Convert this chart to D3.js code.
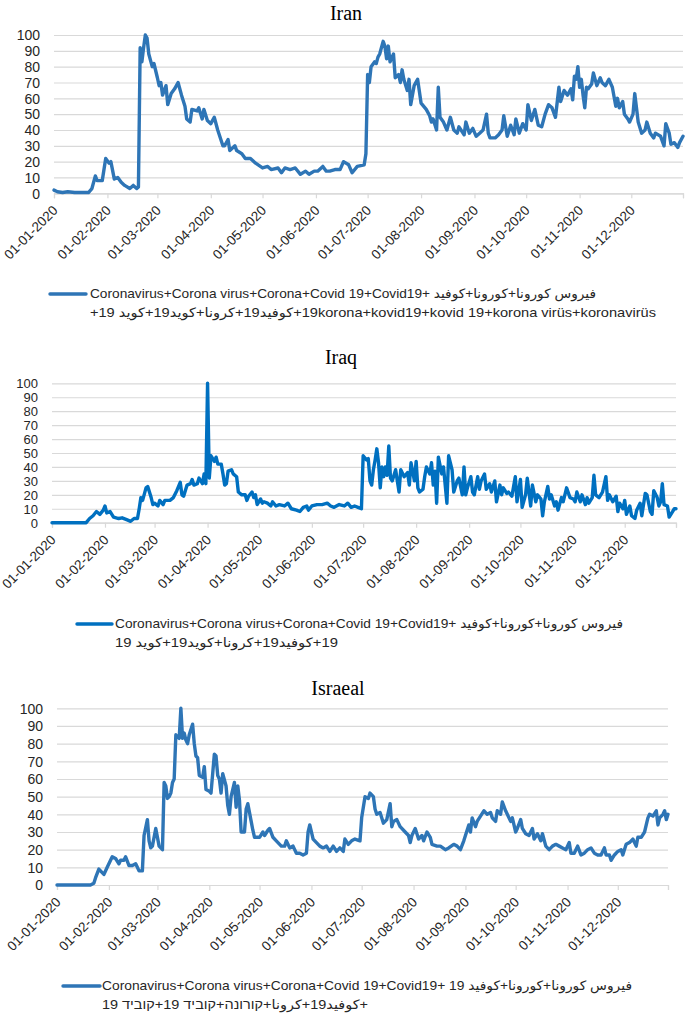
<!DOCTYPE html>
<html><head><meta charset="utf-8">
<script src="https://cdn.jsdelivr.net/npm/d3@7/dist/d3.min.js"></script>
<style>body{margin:0;background:#fff}svg{display:block}</style>
</head><body>
<svg id="chart" width="685" height="1015"></svg>
<script>
// ---------- data ----------
const monthStarts = ["2020-01-01","2020-02-01","2020-03-01","2020-04-01","2020-05-01","2020-06-01","2020-07-01","2020-08-01","2020-09-01","2020-10-01","2020-11-01","2020-12-01"];
const yTicks = [0,10,20,30,40,50,60,70,80,90,100];
const titles = ["Iran","Iraq","Israeal"];

// day offset from 01-01-2020 and search interest value
const iranDays = [0,2,5,8,12,16,20,22,24,25,28,30,32,33,35,37,39,41,44,46,48,49,50,51,52,53,54,55,57,58,60,61,62,63,65,66,68,70,72,74,76,77,79,80,83,84,86,87,89,91,93,95,98,99,101,102,105,106,109,111,114,117,121,124,126,130,132,134,137,140,143,146,148,151,153,156,158,160,163,166,168,171,173,176,180,181,182,183,184,186,187,188,189,191,192,193,194,195,197,198,200,201,202,203,205,206,207,209,211,213,216,218,219,220,222,223,224,226,228,230,232,234,235,238,239,241,243,245,247,249,251,252,253,256,258,260,261,263,265,267,268,270,272,274,275,277,279,281,283,285,287,289,291,293,294,296,298,300,301,302,303,304,305,306,307,308,309,310,312,313,315,317,318,320,322,324,326,327,328,330,331,333,334,336,337,339,341,343,344,346,348,349,352,354,355,357,358,360,362,363,365];
const iranValues = [2,1,0.5,1,0.5,0.5,0.5,3,11,8,8,22,19,20,9,10,7,5,3,5,3,4,92,83,92,100,98,88,80,82,73,68,70,62,68,56,63,66,70,62,55,47,45,53,52,54,47,53,46,44,48,40,30,30,34,27,30,27,25,22,22,19,16,17,15,16,13,16,15,16,12,14,12,14,14,17,14,14,15,15,20,18,13,17,18,25,75,70,80,83,82,86,88,96,93,85,93,83,88,73,75,70,78,72,65,72,56,68,72,57,53,49,45,47,40,67,48,45,40,48,40,38,42,37,45,38,41,36,38,40,50,38,35,35,37,40,49,36,43,37,47,38,44,40,56,46,53,43,42,50,56,54,48,67,58,65,62,66,59,74,72,80,67,72,62,54,67,66,69,76,68,73,70,68,72,67,55,60,54,58,50,47,45,50,63,45,38,40,45,38,35,38,36,30,44,38,31,32,29,32,36];

const iraqDays = [0,5,10,15,20,22,24,26,28,30,31,32,34,36,39,41,44,46,48,50,51,52,53,55,56,58,59,60,62,63,65,66,69,71,73,75,76,77,79,81,82,83,85,86,88,89,90,91,92,93,95,96,97,99,100,101,102,103,105,106,108,109,111,113,114,115,117,118,119,120,122,123,124,126,128,129,131,133,136,138,140,143,145,147,149,150,152,155,158,161,163,165,168,171,173,175,177,179,181,182,184,185,186,187,188,189,190,191,192,193,194,195,196,197,198,199,201,202,203,204,206,208,209,210,212,213,214,215,217,218,219,221,222,223,224,225,226,228,229,231,232,234,235,237,238,240,241,242,243,245,246,247,249,250,251,253,254,256,257,259,260,262,263,264,266,267,269,270,271,272,274,275,277,278,280,281,283,284,286,287,288,290,291,292,294,295,296,298,299,301,303,305,306,307,309,310,312,313,314,316,317,318,320,322,324,325,326,328,330,331,332,334,335,336,338,339,341,342,344,345,347,348,350,351,352,354,355,356,357,358,360,361,363,364,365];
const iraqValues = [0,0,0,0,0,3,5,8,6,9,12,7,8,4,3,3.5,2,1,3,3,10,18,16,25,26,18,13,14,12,16,13,16,16,18,23,29,20,19,27,28,31,27,28,32,28,35,28,100,32,48,44,47,42,42,35,27,28,37,38,35,33,22,20,20,16,19,22,18,20,13,17,14,15,14,12,15,12,13,12,14,10,9,8,11,12,9,12,13,13,14,12,11,13,12,14,11,12,11,10,48,45,46,30,27,38,45,53,43,25,40,33,40,34,55,32,30,38,30,22,38,33,36,27,43,30,44,25,22,24,33,40,35,43,27,37,14,47,35,40,14,48,38,22,30,32,20,40,20,25,33,22,20,33,24,30,35,24,28,22,30,15,27,20,25,21,22,19,26,33,15,31,11,20,32,12,27,15,20,17,5,15,26,17,20,12,15,9,18,15,25,18,17,15,22,15,20,13,18,14,18,34,20,18,22,33,16,20,15,19,8,14,10,16,6,12,5,3,9,14,5,21,20,8,6,23,18,12,15,28,13,12,4,8,10,10];

const israelDays = [0,5,10,15,20,22,23,25,26,28,30,32,33,35,37,38,40,41,43,45,47,48,49,51,52,54,55,56,57,59,61,63,64,65,66,67,68,69,70,71,73,74,75,76,77,78,79,81,82,83,84,85,87,88,89,91,92,94,95,96,97,98,99,101,102,103,104,106,107,108,109,110,112,113,114,116,117,118,119,121,123,124,126,127,129,131,134,136,137,139,141,143,145,147,149,150,151,153,155,157,159,161,163,165,167,169,171,172,174,176,178,181,182,184,186,187,189,190,191,193,195,197,199,200,201,203,205,208,210,211,212,214,216,218,219,221,223,224,227,229,232,234,237,239,241,243,244,246,247,248,250,251,253,255,257,259,260,262,263,265,266,268,269,271,272,274,275,277,278,280,282,284,285,287,289,290,292,294,296,298,300,302,304,306,307,309,311,313,315,317,319,321,323,325,327,328,330,331,333,335,337,338,340,342,344,346,347,349,351,353,354,356,358,359,360,362,363,364,365];
const israelValues = [0,0,0,0,0,1,4,9,8,6,10,14,16,15,12,14,14,16,11,11,12,10,8,8,28,37,25,21,22,32,22,20,58,56,49,50,52,58,60,85,83,100,83,86,82,80,85,91,80,73,72,62,61,67,54,53,52,74,73,62,60,52,63,56,45,40,50,58,44,56,48,30,30,43,46,36,31,27,27,27,30,28,31,32,27,25,22,22,25,21,22,18,18,17,18,30,34,26,24,22,21,22,19,22,19,21,19,26,23,25,26,25,38,50,49,52,50,43,40,41,35,37,46,33,36,37,33,30,28,24,28,32,26,28,25,30,27,23,22,22,20,21,23,22,20,25,28,34,30,38,33,36,39,42,40,41,38,36,42,40,47,42,40,36,38,30,32,37,32,29,28,32,26,29,25,29,22,20,22,23,22,21,20,24,18,18,22,17,18,20,21,18,17,17,21,17,17,14,17,19,20,17,23,24,26,22,27,27,30,38,40,39,42,34,38,40,42,37,40];

// legend lines (each Arabic / Hebrew word is isolated so token order is kept)
const iranLegend = ["Coronavirus+Corona virus+Corona+Covid 19+Covid19+ كوفيد+كورونا+كورونا فيروس",
                    "+19 كويد+19كويد+كرونا+19كوفيد+19korona+kovid19+kovid 19+korona virüs+koronavirüs"];
const iraqLegend = ["Coronavirus+Corona virus+Corona+Covid 19+Covid19+ كوفيد+كورونا+كورونا فيروس",
                    "19 كويد+19كويد+كرونا+19كوفيد+19"];
const israelLegend = ["Coronavirus+Corona virus+Corona+Covid 19+Covid19+ 19 كوفيد+كورونا+كورونا فيروس",
                      "19 קוביד+19 קוביד+קורונה+كرونا+19كوفيد+"];

// ---------- layout ----------
const panels = [
  {title:titles[0], days:iranDays, values:iranValues, legend:iranLegend, color:"#2e75b6",
   left:54, right:683, top:35, bottom:193.3, titleX:346, titleY:20, yFont:14,
   legX0:50, legX1:86, legY:294, textX:90, lineY:[298,317], lineW:[506,566]},
  {title:titles[1], days:iraqDays, values:iraqValues, legend:iraqLegend, color:"#0070c0",
   left:52, right:676, top:383.3, bottom:522.7, titleX:341, titleY:364, yFont:13,
   legX0:77, legX1:112, legY:624, textX:115, lineY:[628,647], lineW:[508,223]},
  {title:titles[2], days:israelDays, values:israelValues, legend:israelLegend, color:"#2e75b6",
   left:57, right:668, top:708.3, bottom:885, titleX:338, titleY:695, yFont:14,
   legX0:63, legX1:100, legY:986, textX:102, lineY:[990,1009], lineW:[530,266]}
];

const svg = d3.select("#chart");
const parse = d3.utcParse("%Y-%m-%d");
const fmt = d3.utcFormat("%d-%m-%Y");
const start = parse("2020-01-01"), end = parse("2020-12-31");
const tickDates = monthStarts.map(parse).concat([end]);
const isolate = s => s.replace(/([\u0590-\u05FF\u0600-\u06FF]+)/g, "\u200E$1\u200E");

panels.forEach(p => {
  const g = svg.append("g");
  const x = d3.scaleUtc().domain([start, end]).range([p.left, p.right]);
  const y = d3.scaleLinear().domain([0, 100]).range([p.bottom, p.top]);

  // grid + y labels
  const ya = g.append("g").attr("transform", `translate(${p.left},0)`)
    .call(d3.axisLeft(y).tickValues(yTicks).tickSize(-(p.right - p.left)).tickPadding(14));
  ya.select(".domain").remove();
  ya.selectAll(".tick line").attr("stroke", "#d9d9d9").attr("stroke-width", 1.2);
  ya.selectAll(".tick text").attr("fill", "#262626").attr("dy", "0.34em")
    .style("font-family", "'Liberation Sans', Arial, sans-serif").style("font-size", p.yFont + "px");

  // x axis
  const xa = g.append("g").attr("transform", `translate(0,${p.bottom})`)
    .call(d3.axisBottom(x).tickValues(tickDates).tickSize(5)
      .tickFormat(d => +d === +end ? "" : fmt(d)));
  xa.select(".domain").attr("stroke", "#d9d9d9").attr("stroke-width", 1.2);
  xa.selectAll(".tick line").attr("stroke", "#d9d9d9").attr("stroke-width", 1.2);
  xa.selectAll(".tick text")
    .attr("fill", "#262626")
    .style("font-family", "'Liberation Sans', Arial, sans-serif").style("font-size", "13.5px")
    .attr("text-anchor", "end").attr("dy", null).attr("y", 0)
    .attr("transform", "translate(4,18) rotate(-45)");

  // series line
  const pts = p.days.map((d, i) => [d3.utcDay.offset(start, d), p.values[i]]);
  g.append("path").datum(pts)
    .attr("fill", "none").attr("stroke", p.color).attr("stroke-width", 3.4)
    .attr("stroke-linejoin", "round").attr("stroke-linecap", "round")
    .attr("d", d3.line().x(d => x(d[0])).y(d => y(d[1])));

  // title
  g.append("text").attr("x", p.titleX).attr("y", p.titleY).attr("text-anchor", "middle")
    .style("font-family", "'Liberation Serif', 'Times New Roman', serif").style("font-size", "20px")
    .attr("fill", "#000").text(p.title);

  // legend
  g.append("line").attr("x1", p.legX0).attr("x2", p.legX1).attr("y1", p.legY).attr("y2", p.legY)
    .attr("stroke", p.color).attr("stroke-width", 3.4).attr("stroke-linecap", "round");
  p.legend.forEach((line, i) => {
    g.append("text").attr("x", p.textX).attr("y", p.lineY[i])
      .attr("direction", "ltr")
      .style("font-family", "'Liberation Sans', Arial, 'DejaVu Sans', sans-serif").style("font-size", "13px")
      .attr("fill", "#262626").text(isolate(line))
      .attr("textLength", p.lineW[i]).attr("lengthAdjust", "spacingAndGlyphs");
  });
});
</script>
</body></html>
